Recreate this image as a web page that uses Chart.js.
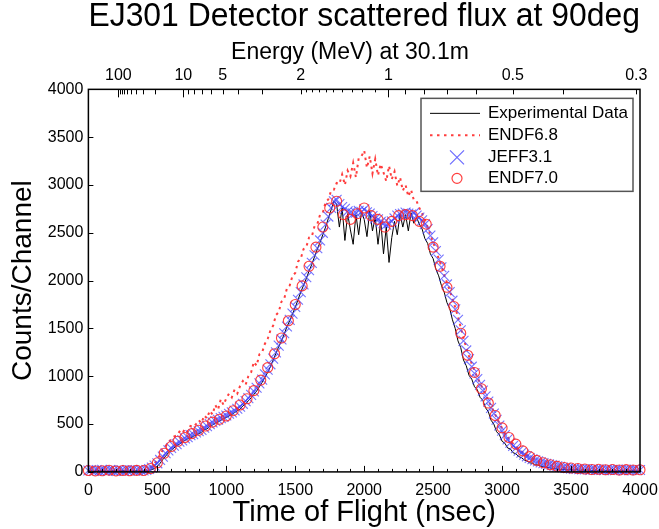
<!DOCTYPE html>
<html>
<head>
<meta charset="utf-8">
<title>EJ301 Detector scattered flux at 90deg</title>
<script src="https://cdn.jsdelivr.net/npm/chart.js@4.4.1/dist/chart.umd.min.js"></script>
<style>
  html, body { margin: 0; padding: 0; background: #fff; }
  #wrap { width: 659px; height: 529px; }
</style>
</head>
<body>
<div id="wrap"><canvas id="tof"></canvas></div>
<script>
// time of flight bins, ns
const binWidth = 20;
const circleBinWidth = 50;

// counts per channel, one value per 20 ns bin (0 .. 4000 ns)
const expCounts = [
  8, 14, 5, 11, 16, 7, 12, 4, 10, 13,
  6, 12, 9, 15, 5, 11, 8, 14, 10, 7,
  12, 9, 16, 24, 38, 60, 90, 130, 165, 200,
  225, 250, 275, 290, 310, 330, 345, 355, 372, 385,
  400, 415, 440, 450, 475, 490, 510, 520, 540, 555,
  570, 585, 600, 620, 640, 655, 690, 710, 745, 775,
  810, 845, 890, 935, 990, 1040, 1100, 1170, 1240, 1310,
  1370, 1440, 1520, 1580, 1650, 1720, 1800, 1880, 1950, 2020,
  2100, 2170, 2250, 2330, 2400, 2480, 2560, 2650, 2740, 2830,
  2800, 2560, 2760, 2420, 2700, 2530, 2380, 2690, 2480, 2720,
  2640, 2460, 2730, 2520, 2660, 2380, 2620, 2280, 2560, 2190,
  2450, 2620, 2480, 2700, 2560, 2690, 2520, 2710, 2600, 2660,
  2590, 2540, 2440, 2390, 2280, 2230, 2120, 2050, 1950, 1880,
  1770, 1710, 1590, 1500, 1370, 1300, 1170, 1110, 1010, 970,
  890, 860, 780, 750, 670, 630, 540, 500, 420, 390,
  320, 300, 250, 240, 200, 190, 160, 150, 125, 115,
  95, 90, 75, 72, 60, 55, 48, 44, 38, 35,
  30, 28, 24, 27, 20, 25, 18, 22, 16, 20,
  14, 19, 12, 17, 10, 15, 13, 9, 16, 11,
  12, 8, 15, 10, 13, 7, 11, 14, 9, 12,
  10
];

const endf68Counts = [
  5, 15, 10, 20, 8, 12, 18, 6, 14, 10,
  16, 8, 12, 20, 10, 14, 6, 18, 12, 10,
  20, 15, 30, 55, 90, 130, 180, 230, 270, 310,
  340, 370, 380, 420, 400, 450, 420, 480, 470, 500,
  540, 510, 590, 560, 640, 600, 700, 650, 760, 700,
  770, 820, 780, 860, 820, 900, 950, 910, 1000, 1040,
  1150, 1110, 1230, 1250, 1340, 1390, 1480, 1530, 1640, 1670,
  1780, 1810, 1920, 1950, 2050, 2080, 2200, 2230, 2330, 2350,
  2450, 2460, 2570, 2590, 2690, 2710, 2820, 2850, 2940, 2950,
  3020, 3010, 3110, 3000, 3150, 3090, 3230, 3080, 3280, 3300,
  3360, 3180, 3300, 3120, 3270, 3100, 3220, 3130, 3040, 3200,
  3060, 3140, 2990, 3080, 2940, 3000, 2880, 2950, 2840, 2830,
  2760, 2700, 2640, 2560, 2480, 2400, 2320, 2230, 2150, 2060,
  1980, 1900, 1810, 1720, 1620, 1510, 1400, 1300, 1210, 1130,
  1060, 990, 930, 870, 810, 750, 690, 630, 570, 510,
  455, 405, 365, 325, 295, 265, 240, 215, 195, 175,
  158, 140, 125, 112, 100, 90, 82, 75, 66, 60,
  55, 46, 40, 42, 35, 30, 38, 28, 32, 25,
  30, 22, 28, 20, 26, 18, 24, 22, 16, 20,
  24, 18, 22, 15, 20, 25, 16, 22, 18, 20,
  18
];

const jeffCounts = [
  15, 20, 10, 18, 12, 22, 15, 10, 18, 14,
  12, 20, 16, 10, 18, 14, 20, 12, 16, 18,
  15, 20, 30, 45, 65, 90, 125, 160, 195, 225,
  250, 275, 290, 315, 330, 350, 362, 385, 395, 412,
  425, 440, 462, 478, 500, 518, 532, 545, 562, 575,
  590, 608, 622, 642, 660, 682, 712, 740, 772, 805,
  842, 880, 925, 965, 1020, 1070, 1125, 1185, 1250, 1320,
  1385, 1450, 1520, 1590, 1655, 1725, 1800, 1880, 1960, 2035,
  2110, 2185, 2265, 2340, 2420, 2500, 2585, 2670, 2760, 2830,
  2845, 2800, 2770, 2750, 2725, 2715, 2700, 2710, 2730, 2720,
  2745, 2715, 2700, 2675, 2650, 2640, 2615, 2600, 2585, 2600,
  2620, 2650, 2680, 2695, 2700, 2712, 2700, 2690, 2705, 2680,
  2660, 2630, 2590, 2540, 2470, 2400, 2310, 2220, 2140, 2050,
  1960, 1880, 1790, 1700, 1590, 1480, 1370, 1270, 1180, 1100,
  1030, 970, 910, 850, 790, 735, 670, 610, 545, 485,
  430, 385, 340, 305, 272, 248, 222, 200, 180, 163,
  145, 132, 120, 110, 100, 92, 85, 78, 72, 65,
  58, 52, 46, 42, 38, 35, 32, 30, 28, 26,
  25, 28, 22, 26, 20, 24, 22, 18, 25, 20,
  22, 18, 24, 20, 16, 22, 18, 20, 24, 18,
  20
];

// one value per 50 ns bin
const endf70Counts = [
  15, 10, 12, 18, 10, 15, 12, 16, 14, 35,
  95, 195, 265, 320, 360, 400, 435, 480, 520, 550,
  585, 640, 700, 765, 850, 960, 1090, 1235, 1400, 1580,
  1750, 1945, 2150, 2350, 2560, 2760, 2830, 2690, 2640, 2700,
  2760, 2680, 2640, 2560, 2620, 2680, 2690, 2680, 2620, 2590,
  2350, 2150, 1930, 1730, 1450, 1220, 1040, 870, 720, 590,
  460, 360, 290, 220, 160, 120, 95, 75, 58, 46,
  40, 35, 30, 25, 28, 22, 25, 20, 24, 20,
  22
];

// top axis: neutron energy at 30.1 m flight path
const flightPath = 30.1;          // m
const lightSpeed = 0.299792458;   // m/ns
const neutronMass = 939.565;      // MeV
const energyLabels = [100, 10, 5, 2, 1, 0.5, 0.3];
const energyMajor = [100, 10, 1];
const energyMinor = [90, 80, 70, 60, 50, 40, 30, 20, 9, 8, 7, 6, 5, 4, 3, 2, 0.9, 0.8, 0.7, 0.6, 0.5, 0.4, 0.3];
const energyFine = [1.9, 1.8, 1.7, 1.6, 1.5, 1.4, 1.3, 1.2, 1.1];

const fontFamily = '"Liberation Sans", Arial, Helvetica, sans-serif';

function tofAt(energy) {
  return flightPath / lightSpeed * Math.sqrt(neutronMass / (2 * energy));
}

function toPoints(values, step) {
  return values.map((v, i) => ({ x: i * step, y: v }));
}

const frameTicks = {
  id: 'frameTicks',
  afterDatasetsDraw(chart) {
    const { ctx, chartArea: area, scales } = chart;
    const x = scales.x;
    const y = scales.y;
    const top = scales.xTop;

    ctx.save();
    ctx.strokeStyle = '#000';
    ctx.lineWidth = 1;
    ctx.beginPath();
    // bottom: labelled every 500, minor every 100
    for (let t = 0; t <= 4000; t += 100) {
      const px = Math.round(x.getPixelForValue(t)) + 0.5;
      const len = t % 500 === 0 ? 6 : 3;
      ctx.moveTo(px, area.bottom);
      ctx.lineTo(px, area.bottom - len);
    }
    // left
    y.ticks.forEach(tick => {
      const py = Math.round(y.getPixelForValue(tick.value)) + 0.5;
      ctx.moveTo(area.left, py);
      ctx.lineTo(area.left + 5, py);
    });
    // top, log energy ticks
    const topTick = (list, len) => list.forEach(e => {
      const px = Math.round(top.getPixelForValue(tofAt(e))) + 0.5;
      ctx.moveTo(px, area.top);
      ctx.lineTo(px, area.top + len);
    });
    topTick(energyMajor, 8);
    topTick(energyMinor, 5);
    topTick(energyFine, 3);
    ctx.stroke();

    ctx.lineWidth = 1.5;
    ctx.strokeRect(area.left, area.top, area.right - area.left, area.bottom - area.top);

    // top axis title
    ctx.fillStyle = '#000';
    ctx.font = '23px ' + fontFamily;
    ctx.textAlign = 'center';
    ctx.textBaseline = 'middle';
    ctx.fillText('Energy (MeV) at 30.1m', 350, 53);
    ctx.restore();
  },

  afterDraw(chart) {
    const { ctx, chartArea: area } = chart;
    const left = area.right - 219;
    const boxTop = area.top + 9;
    const rows = [15, 37, 59, 80].map(d => boxTop + d);
    const mid = left + 36;

    ctx.save();
    ctx.fillStyle = '#fff';
    ctx.fillRect(left, boxTop, 212, 93);
    ctx.strokeStyle = '#555';
    ctx.lineWidth = 1.5;
    ctx.strokeRect(left, boxTop, 212, 93);

    ctx.lineWidth = 1;
    ctx.strokeStyle = '#000';
    ctx.beginPath();
    ctx.moveTo(left + 9, rows[0]);
    ctx.lineTo(left + 59, rows[0]);
    ctx.stroke();

    ctx.strokeStyle = 'rgba(255, 40, 40, 0.9)';
    ctx.lineWidth = 2;
    ctx.setLineDash([2.5, 4.5]);
    ctx.beginPath();
    ctx.moveTo(left + 9, rows[1]);
    ctx.lineTo(left + 59, rows[1]);
    ctx.stroke();
    ctx.setLineDash([]);

    ctx.strokeStyle = 'rgba(70, 70, 255, 0.8)';
    ctx.lineWidth = 1.2;
    ctx.beginPath();
    ctx.moveTo(mid - 7, rows[2] - 7);
    ctx.lineTo(mid + 7, rows[2] + 7);
    ctx.moveTo(mid - 7, rows[2] + 7);
    ctx.lineTo(mid + 7, rows[2] - 7);
    ctx.stroke();

    ctx.strokeStyle = 'rgba(255, 40, 40, 0.9)';
    ctx.beginPath();
    ctx.arc(mid, rows[3], 5, 0, Math.PI * 2);
    ctx.stroke();

    ctx.fillStyle = '#000';
    ctx.font = '17px ' + fontFamily;
    ctx.textAlign = 'left';
    ctx.textBaseline = 'middle';
    ['Experimental Data', 'ENDF6.8', 'JEFF3.1', 'ENDF7.0'].forEach((label, i) => {
      ctx.fillText(label, left + 67, rows[i]);
    });
    ctx.restore();
  }
};

Chart.defaults.font.family = fontFamily;
Chart.defaults.color = '#000';

new Chart(document.getElementById('tof'), {
  type: 'line',
  data: {
    datasets: [
      {
        label: 'Experimental Data',
        data: toPoints(expCounts, binWidth),
        borderColor: '#000',
        borderWidth: 1,
        pointRadius: 0,
        order: 3
      },
      {
        label: 'ENDF6.8',
        data: toPoints(endf68Counts, binWidth),
        borderColor: 'rgba(255, 40, 40, 0.9)',
        borderWidth: 2,
        borderDash: [2.5, 4],
        pointRadius: 0,
        order: 4
      },
      {
        label: 'JEFF3.1',
        data: toPoints(jeffCounts, binWidth),
        showLine: false,
        pointStyle: 'crossRot',
        pointRadius: 7,
        pointBorderWidth: 1.1,
        borderColor: 'rgba(70, 70, 255, 0.75)',
        clip: false,
        order: 2
      },
      {
        label: 'ENDF7.0',
        data: toPoints(endf70Counts, circleBinWidth),
        showLine: false,
        pointStyle: 'circle',
        pointRadius: 5,
        pointBorderWidth: 1.1,
        borderColor: 'rgba(255, 40, 40, 0.9)',
        backgroundColor: 'rgba(0, 0, 0, 0)',
        clip: false,
        order: 1
      }
    ]
  },
  options: {
    responsive: true,
    maintainAspectRatio: false,
    animation: false,
    layout: { padding: { left: 0, right: 19, top: 0, bottom: 0 } },
    plugins: {
      legend: { display: false },
      tooltip: { enabled: false },
      title: {
        display: true,
        text: 'EJ301 Detector scattered flux at 90deg',
        fullSize: false,
        font: { size: 33, weight: 'normal', lineHeight: 1.05 },
        padding: { top: 0, bottom: 27.5 }
      }
    },
    scales: {
      x: {
        type: 'linear',
        position: 'bottom',
        min: 0,
        max: 4000,
        grid: { display: false, drawTicks: false },
        border: { display: false },
        afterFit: axis => {
          // keep the right margin tight, the last label may overhang
          axis.paddingRight = 0;
        },
        ticks: {
          stepSize: 500,
          maxRotation: 0,
          padding: 9,
          font: { size: 16 },
          callback: value => String(value)
        },
        title: {
          display: true,
          text: 'Time of Flight (nsec)',
          font: { size: 29, lineHeight: 1.1 },
          padding: { top: -12, bottom: 0 }
        }
      },
      xTop: {
        type: 'linear',
        position: 'top',
        min: 0,
        max: 4000,
        grid: { display: false, drawTicks: false },
        border: { display: false },
        afterFit: axis => {
          axis.paddingRight = 0;
        },
        afterBuildTicks: axis => {
          axis.ticks = energyLabels.map(e => ({ value: tofAt(e) }));
        },
        ticks: {
          autoSkip: false,
          maxRotation: 0,
          padding: 4,
          font: { size: 16 },
          callback: (value, index) => String(energyLabels[index])
        }
      },
      y: {
        min: 0,
        max: 4000,
        grid: { display: false, drawTicks: false },
        border: { display: false },
        ticks: {
          stepSize: 500,
          padding: 5,
          font: { size: 16 },
          callback: value => String(value)
        },
        title: {
          display: true,
          text: 'Counts/Channel',
          font: { size: 28, lineHeight: 1.1 },
          padding: { top: 8, bottom: 4 }
        }
      }
    }
  },
  plugins: [frameTicks]
});
</script>
</body>
</html>
